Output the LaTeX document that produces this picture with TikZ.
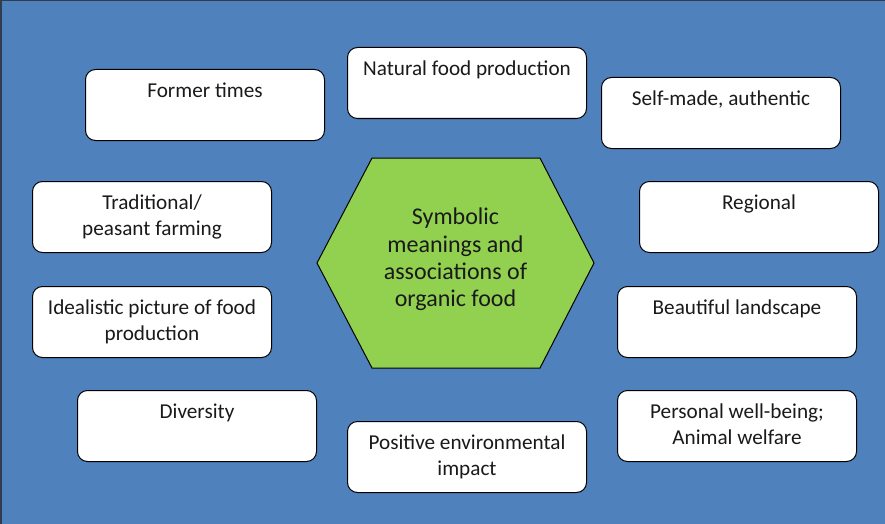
\documentclass[tikz,border=0pt]{standalone}
\usepackage{fontspec}
\setmainfont{Carlito}
\definecolor{bgblue}{HTML}{4F81BD}
\definecolor{bgborder}{HTML}{2F3D4F}
\definecolor{hexgreen}{HTML}{92D050}
\definecolor{textgray}{HTML}{1A1A1A}

\begin{document}
\begin{tikzpicture}[x=1pt,y=-1pt,
    frame/.style={fill=bgblue,draw=bgborder,line width=1.5pt},
    card/.style={draw=black,fill=white,line width=1pt,rounded corners=10pt,
      minimum width=239pt,minimum height=71pt,anchor=north west,inner sep=0pt},
    cardtext/.style={anchor=north,yshift=-10.5pt,inner sep=0pt,align=center,
      font=\fontsize{21.2}{26}\selectfont,text=textgray},
    hexa/.style={draw=black,fill=hexgreen,line width=1pt},
    hextext/.style={inner sep=0pt,align=center,
      font=\fontsize{24}{27.3}\selectfont,text=textgray}]
      \useasboundingbox (0,0) rectangle (885,524);
      \draw[frame] (0.75,0.75) rectangle (890,530);

      \draw[hexa] (317,263) -- (372,158) -- (540,158) -- (594,263) -- (540,368) -- (372,368) -- cycle;
      \node[hextext] (centre) at (455.5,259.5) {Symbolic\\meanings and\\associations of\\organic food};

      \node[card] (former) at (85,69) {};
      \node[card] (natural) at (347,47) {};
      \node[card] (selfmade) at (601,77) {};
      \node[card] (tradition) at (32,181) {};
      \node[card] (regional) at (639,181) {};
      \node[card] (ideal) at (32,286) {};
      \node[card] (landscape) at (617,286) {};
      \node[card] (diversity) at (77,390) {};
      \node[card] (positive) at (347,421) {};
      \node[card] (wellbeing) at (617,390) {};

      \node[cardtext] (former-t) at (former.north) {\strut Former times};
      \node[cardtext] (natural-t) at (natural.north) {\strut Natural food production};
      \node[cardtext] (selfmade-t) at (selfmade.north) {\strut Self-made, authentic};
      \node[cardtext] (tradition-t) at (tradition.north) {\strut Traditional/\\peasant farming};
      \node[cardtext] (regional-t) at (regional.north) {\strut Regional};
      \node[cardtext] (ideal-t) at (ideal.north) {\strut Idealistic picture of food\\production};
      \node[cardtext] (landscape-t) at (landscape.north) {\strut Beautiful landscape};
      \node[cardtext] (diversity-t) at (diversity.north) {\strut Diversity};
      \node[cardtext] (positive-t) at (positive.north) {\strut Positive environmental\\impact};
      \node[cardtext] (wellbeing-t) at (wellbeing.north) {\strut Personal well-being;\\Animal welfare};
    \end{tikzpicture}
\end{document}
